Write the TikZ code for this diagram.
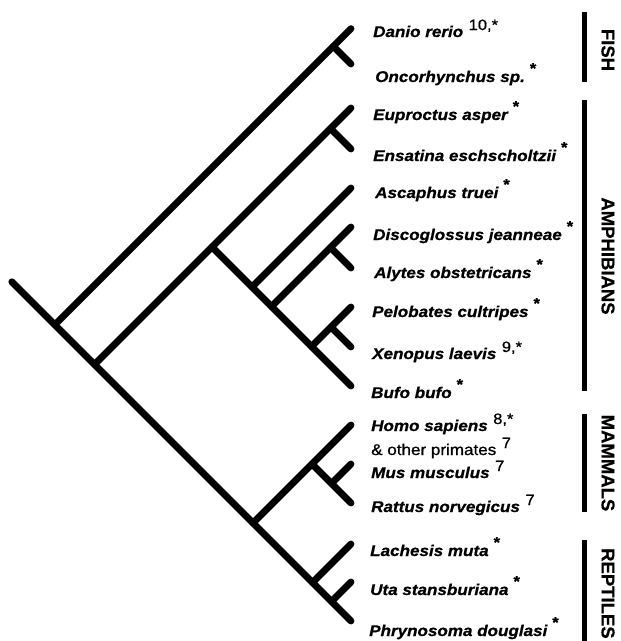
\documentclass[tikz,border=0pt]{standalone}
\usepackage{fontspec}
\usetikzlibrary{calc}
\setmainfont{Liberation Sans}
\newfontface\labface[FakeBold=0.7]{Liberation Sans Bold Italic}
\newfontface\grpface[FakeBold=0.7]{Liberation Sans Bold}
\newfontface\regface[FakeBold=0.9]{Liberation Sans}
\newcommand{\sps}{\hspace{4.5pt}\raisebox{8.5pt}{\fontsize{15}{15}\grpface *}}
\newcommand{\spn}[1]{\hspace{5pt}\raisebox{7pt}{\fontsize{15}{15}\regface #1}}
\newcommand{\cnode}[3]{\coordinate (#1) at ({351-(#3-#2)/2},{(#2+#3)/2});}
\begin{document}
\begin{tikzpicture}[x=1pt,y=-1pt,
  br/.style={line width=6.8pt,line cap=round},
  lab/.style={anchor=base west,inner sep=0pt,xscale=1.1,font=\fontsize{15.5}{15.5}\labface},
  labr/.style={lab,font=\fontsize{15.5}{15.5}\regface},
  grp/.style={rotate=-90,inner sep=0pt,font=\fontsize{18.5}{18.5}\grpface},
  grpbar/.style={line width=5pt}]
\useasboundingbox (0,0) rectangle (621,641);
% leaf tips
\coordinate (tD) at (351,28.6);
\coordinate (tO) at (351,64);
\coordinate (tEu) at (351,108);
\coordinate (tEn) at (351,149);
\coordinate (tAs) at (351,188);
\coordinate (tDi) at (351,227);
\coordinate (tAl) at (351,268);
\coordinate (tPe) at (351,307);
\coordinate (tXe) at (351,347);
\coordinate (tBu) at (351,386);
\coordinate (tHo) at (351,425);
\coordinate (tMu) at (351,464);
\coordinate (tRa) at (351,503);
\coordinate (tLa) at (351,544);
\coordinate (tUt) at (351,582);
\coordinate (tPh) at (351,621);
% internal nodes
\cnode{F}{28.6}{64}
\cnode{A}{28.6}{621}
\coordinate (root) at ($(A)+(-43,-43)$);
\cnode{B}{108}{621}
\cnode{Amph}{108}{386}
\cnode{Caud}{108}{149}
\cnode{Anura}{188}{386}
\cnode{DAPXB}{227}{386}
\cnode{DiAl}{227}{268}
\cnode{PXB}{307}{386}
\cnode{PX}{307}{347}
\cnode{C}{425}{621}
\cnode{Mam}{425}{503}
\cnode{MuRa}{464}{503}
\cnode{Rep}{544}{621}
\cnode{UtPh}{582}{621}
% branches
\draw[br] (root) -- (tPh);
\draw[br] (A) -- (tD);
\draw[br] (F) -- (tO);
\draw[br] (B) -- (tEu);
\draw[br] (Caud) -- (tEn);
\draw[br] (Amph) -- (tBu);
\draw[br] (Anura) -- (tAs);
\draw[br] (DAPXB) -- (tDi);
\draw[br] (DiAl) -- (tAl);
\draw[br] (PXB) -- (tPe);
\draw[br] (PX) -- (tXe);
\draw[br] (C) -- (tHo);
\draw[br] (Mam) -- (tRa);
\draw[br] (MuRa) -- (tMu);
\draw[br] (Rep) -- (tLa);
\draw[br] (UtPh) -- (tUt);
% labels
\node[lab] (lD) at (373,37) {Danio rerio\spn{10,*}};
\node[lab] (lO) at (375,82) {Oncorhynchus sp.\sps};
\node[lab] (lEu) at (373,120) {Euproctus asper\sps};
\node[lab] (lEn) at (373,161) {Ensatina eschscholtzii\sps};
\node[lab] (lAs) at (375,198) {Ascaphus truei\sps};
\node[lab] (lDi) at (373,240) {Discoglossus jeanneae\sps};
\node[lab] (lAl) at (374,278) {Alytes obstetricans\sps};
\node[lab] (lPe) at (372,317) {Pelobates cultripes\sps};
\node[lab] (lXe) at (372,359) {Xenopus laevis\spn{9,*}};
\node[lab] (lBu) at (371,398) {Bufo bufo\sps};
\node[lab] (lHo) at (371,431) {Homo sapiens\spn{8,*}};
\node[labr] (lpr) at (371,455) {\& other primates\spn{7}};
\node[lab] (lMu) at (371,478) {Mus musculus\spn{7}};
\node[lab] (lRa) at (371,512) {Rattus norvegicus\spn{7}};
\node[lab] (lLa) at (370,556) {Lachesis muta\sps};
\node[lab] (lUt) at (370,595) {Uta stansburiana\sps};
\node[lab] (lPh) at (369,636) {Phrynosoma douglasi\sps};
% groups
\coordinate (f1) at (584,12); \coordinate (f2) at (584,82);
\coordinate (a1) at (584,100); \coordinate (a2) at (584,391);
\coordinate (m1) at (584,414); \coordinate (m2) at (584,512);
\coordinate (r1) at (584,540); \coordinate (r2) at (584,641);
\draw[grpbar] (f1) -- (f2);
\draw[grpbar] (a1) -- (a2);
\draw[grpbar] (m1) -- (m2);
\draw[grpbar] (r1) -- (r2);
\node[grp] (gF) at (608,50) {FISH};
\node[grp] (gA) at (608,256) {AMPHIBIANS};
\node[grp] (gM) at (608,463) {MAMMALS};
\node[grp,anchor=west] (gR) at (608,548) {REPTILES};
\end{tikzpicture}
\end{document}
